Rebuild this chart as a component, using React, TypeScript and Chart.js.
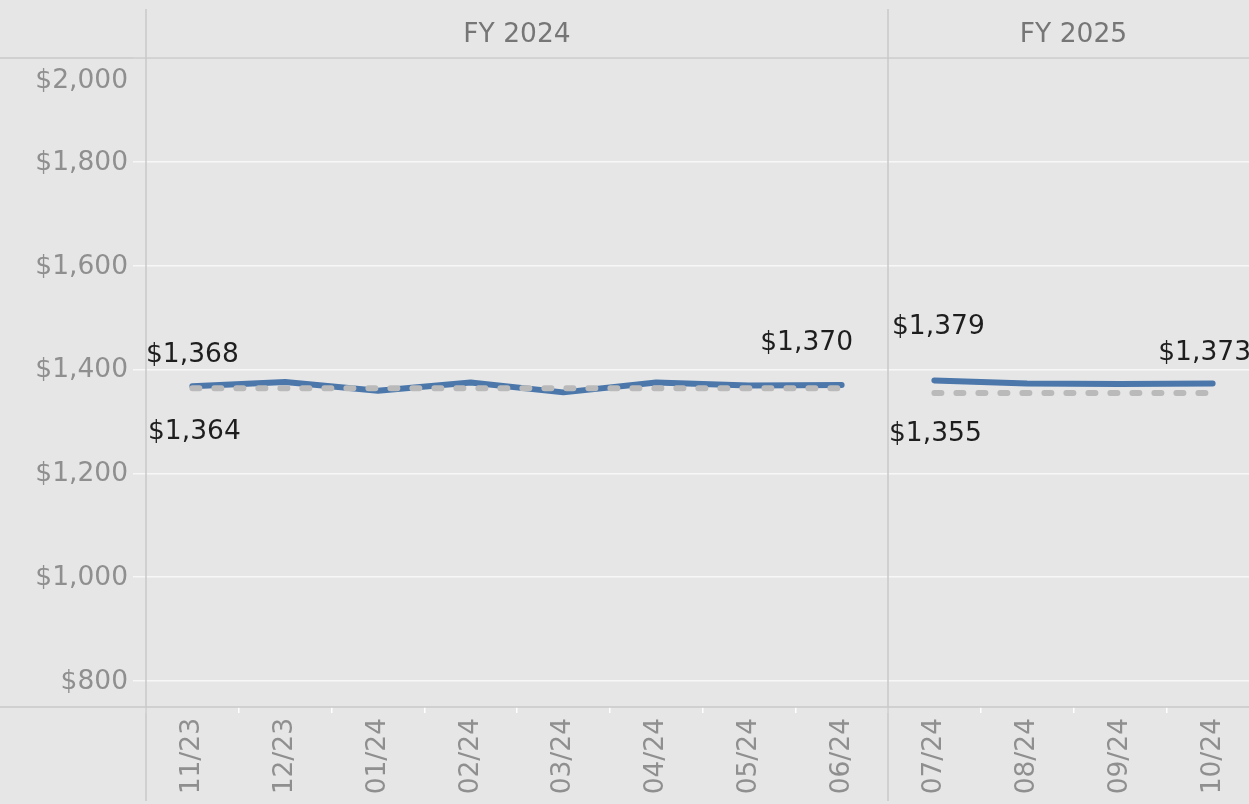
import React, { useEffect, useRef } from "react";
import { Chart, registerables } from "chart.js";

Chart.register(...registerables);

// ---- data ----
const fiscalYears = ["FY 2024", "FY 2025"];
const fy2024Months = ["11/23", "12/23", "01/24", "02/24", "03/24", "04/24", "05/24", "06/24"];
const fy2025Months = ["07/24", "08/24", "09/24", "10/24"];
const fy2024Actual = [1368, 1376, 1359, 1375, 1356, 1375, 1369, 1370];
const fy2024Budget = [1364, 1364, 1364, 1364, 1364, 1364, 1364, 1364];
const fy2025Actual = [1379, 1373, 1372, 1373];
const fy2025Budget = [1355, 1355, 1355, 1355];
const yTickValues = [800, 1000, 1200, 1400, 1600, 1800, 2000];
const yMin = 750;
const yMax = 2000;

// ---- styles ----
const BG = "#e6e6e6";
const LINE_GRAY = "#c9c9c9";
const TICK_GRAY = "#8f8f8f";
const HEADER_GRAY = "#767676";
const BLUE = "#4b77ab";
const DASH_GRAY = "#bababa";
const FONT = "DejaVu Sans";
const FONT_SIZE = 26.5;

const allMonths = [...fy2024Months, ...fy2025Months];
const panels = [
  { title: fiscalYears[0], months: fy2024Months },
  { title: fiscalYears[1], months: fy2025Months },
];

function pad(values: number[], offset: number, total: number): (number | null)[] {
  const out: (number | null)[] = [];
  for (let i = 0; i < total; i++) {
    const j = i - offset;
    out.push(j >= 0 && j < values.length ? values[j] : null);
  }
  return out;
}

const money = (v: number) => "$" + v.toLocaleString("en-US");

// dataset index, point index, offsets for the text labels
const labelSpecs = [
  { ds: 2, idx: 0, dx: 0, dy: -32 },
  { ds: 0, idx: 0, dx: 2, dy: 43 },
  { ds: 2, idx: 7, dx: -35, dy: -43 },
  { ds: 3, idx: 8, dx: 4, dy: -54 },
  { ds: 1, idx: 8, dx: 1, dy: 40 },
  { ds: 3, idx: 11, dx: -8, dy: -31 },
];

const framePlugin = {
  id: "frame",
  beforeDraw(chart: any) {
    const { ctx, width, height } = chart;
    ctx.save();
    ctx.fillStyle = BG;
    ctx.fillRect(0, 0, width, height);
    ctx.restore();
  },
  afterDraw(chart: any) {
    const { ctx, chartArea, scales, width, height } = chart;
    const x = scales.x;
    const y = scales.y;
    const step = x.getPixelForValue(1) - x.getPixelForValue(0);
    ctx.save();
    ctx.font = `${FONT_SIZE}px "${FONT}"`;

    // horizontal frame lines
    ctx.strokeStyle = LINE_GRAY;
    ctx.lineWidth = 1.5;
    [chartArea.top, chartArea.bottom].forEach((py: number) => {
      ctx.beginPath();
      ctx.moveTo(0, py);
      ctx.lineTo(width, py);
      ctx.stroke();
    });

    // panels: dividers and headers
    let start = 0;
    panels.forEach((p) => {
      const left = x.getPixelForValue(start) - step / 2;
      const right = x.getPixelForValue(start + p.months.length - 1) + step / 2;
      ctx.strokeStyle = LINE_GRAY;
      ctx.lineWidth = 1.5;
      ctx.beginPath();
      ctx.moveTo(left, 9);
      ctx.lineTo(left, height - 3);
      ctx.stroke();
      ctx.fillStyle = HEADER_GRAY;
      ctx.textAlign = "center";
      ctx.textBaseline = "middle";
      ctx.fillText(p.title, (left + right) / 2, 35);
      start += p.months.length;
    });

    // y tick labels
    ctx.fillStyle = TICK_GRAY;
    ctx.textAlign = "right";
    ctx.textBaseline = "middle";
    y.ticks.forEach((t: any) => {
      const py = Math.max(y.getPixelForValue(t.value), chartArea.top + 22);
      ctx.fillText(money(t.value), 128, py + 1);
    });

    // data labels
    ctx.fillStyle = "#1e1e1e";
    ctx.textAlign = "center";
    labelSpecs.forEach((s) => {
      const pt = chart.getDatasetMeta(s.ds).data[s.idx];
      const v = chart.data.datasets[s.ds].data[s.idx];
      if (!pt || v == null) return;
      ctx.fillText(money(v), pt.x + s.dx, pt.y + s.dy + 1);
    });
    ctx.restore();
  },
};

export default function App() {
  const canvasRef = useRef<HTMLCanvasElement | null>(null);

  useEffect(() => {
    if (!canvasRef.current) return;
    const total = allMonths.length;
    const off2 = fy2024Months.length;
    const dashed = {
      borderColor: DASH_GRAY,
      borderWidth: 6,
      borderDash: [7, 15],
      borderCapStyle: "round" as const,
      pointRadius: 0,
      tension: 0,
      spanGaps: false,
    };
    const solid = {
      borderColor: BLUE,
      borderWidth: 6,
      borderCapStyle: "round" as const,
      borderJoinStyle: "round" as const,
      pointRadius: 0,
      tension: 0,
      spanGaps: false,
    };
    const chart = new Chart(canvasRef.current, {
      type: "line",
      data: {
        labels: allMonths,
        datasets: [
          { label: "Budget FY 2024", data: pad(fy2024Budget, 0, total), ...dashed },
          { label: "Budget FY 2025", data: pad(fy2025Budget, off2, total), ...dashed },
          { label: "Actual FY 2024", data: pad(fy2024Actual, 0, total), ...solid },
          { label: "Actual FY 2025", data: pad(fy2025Actual, off2, total), ...solid },
        ],
      },
      options: {
        animation: false,
        responsive: false,
        maintainAspectRatio: false,
        layout: { padding: { top: 58, left: 0, right: 0, bottom: 0 } },
        plugins: {
          legend: { display: false },
          tooltip: { enabled: false },
          title: { display: false },
        },
        scales: {
          x: {
            type: "category",
            offset: true,
            border: { display: false },
            grid: {
              offset: true,
              drawOnChartArea: false,
              drawTicks: true,
              tickLength: 6,
              color: "#ffffff",
              lineWidth: 1.5,
            },
            ticks: {
              autoSkip: false,
              minRotation: 90,
              maxRotation: 90,
              padding: 5,
              color: TICK_GRAY,
              font: { family: FONT, size: FONT_SIZE },
            },
            afterFit: (s: any) => {
              s.height = 97;
            },
          },
          y: {
            type: "linear",
            min: yMin,
            max: yMax,
            border: { display: false },
            grid: {
              color: "#f7f7f7",
              lineWidth: 1.5,
              drawTicks: true,
              tickLength: 13,
            },
            ticks: { display: false },
            afterBuildTicks: (axis: any) => {
              axis.ticks = yTickValues.map((v) => ({ value: v }));
            },
            afterFit: (s: any) => {
              s.width = 146;
            },
          },
        },
      },
      plugins: [framePlugin],
    });
    return () => chart.destroy();
  }, []);

  return (
    <div
      style={{
        position: "fixed",
        left: 0,
        top: 0,
        width: 1249,
        height: 804,
        overflow: "hidden",
        background: BG,
      }}
    >
      <canvas ref={canvasRef} width={1259} height={804} style={{ display: "block", width: 1259, height: 804 }} />
    </div>
  );
}
